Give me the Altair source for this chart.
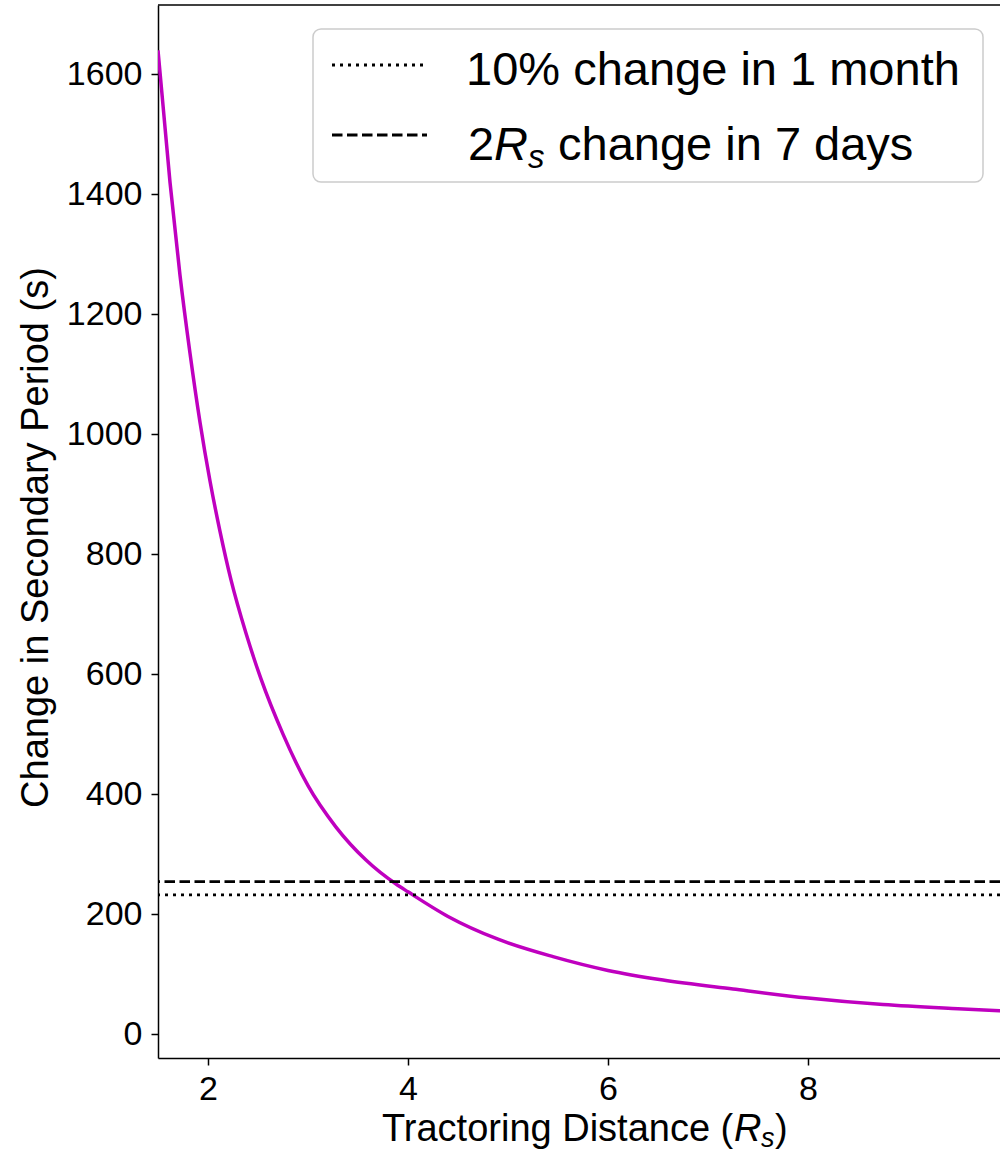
import altair as alt
import pandas as pd

# ---- data ----
distance = [1.5, 1.62, 1.72, 1.82, 1.92, 2.02, 2.12, 2.23, 2.38, 2.53, 2.75, 3.0,
            3.28, 3.58, 3.88, 4.0, 4.4, 4.9, 5.45, 6.0, 6.55, 7.25, 8.0, 8.75, 9.5, 10.0]
period_change = [1640, 1420, 1265, 1135, 1020, 922, 838, 757, 668, 592, 500, 414,
                 345, 290, 250, 237, 196, 158, 129, 106, 90, 75, 60, 49, 42, 38]
threshold_month = [232]   # 10% change in 1 month
threshold_days = [254]    # 2R_s change in 7 days
x_ticks = [2, 4, 6, 8]
y_ticks = [0, 200, 400, 600, 800, 1000, 1200, 1400, 1600]
legend_labels = ["10% change in 1 month", "2", "R", "s", "change in 7 days"]
x_title_parts = ["Tractoring Distance (", "R", "s", ")"]
y_title = "Change in Secondary Period (s)"

# ---- layout ----
W, H = 842, 1053
X0, Y0 = 158, 5
FONT = "Liberation Sans"


def rx(a):
    return a - X0


def ry(a):
    return a - Y0


df = pd.DataFrame({"distance": distance, "change": period_change})
one = pd.DataFrame({"k": [0]})

x_scale = alt.Scale(domain=[1.5, 9.92], nice=False, zero=False)
y_scale = alt.Scale(domain=[-40, 1715.5], nice=False, zero=False)

curve = alt.Chart(df).mark_line(
    color="#bf00bf", strokeWidth=3.5, clip=True, interpolate="monotone"
).encode(
    x=alt.X("distance:Q", scale=x_scale,
            axis=alt.Axis(values=x_ticks, title=None, labelPadding=7,
                          labelFontSize=34, format="d")),
    y=alt.Y("change:Q", scale=y_scale,
            axis=alt.Axis(values=y_ticks, title=y_title, labelPadding=9,
                          labelFontSize=34, format="d",
                          titleFontSize=38, titleFontWeight="normal",
                          titleX=rx(47), titleY=ry(537), titleAngle=270,
                          titleBaseline="alphabetic", titleAlign="center")),
)

rule_month = alt.Chart(pd.DataFrame({"y": threshold_month})).mark_rule(
    color="black", strokeWidth=2.8, strokeDash=[3, 5], strokeCap="butt"
).encode(y=alt.Y("y:Q", scale=y_scale))

rule_days = alt.Chart(pd.DataFrame({"y": threshold_days})).mark_rule(
    color="black", strokeWidth=2.8, strokeDash=[10.5, 4.5], strokeCap="butt"
).encode(y=alt.Y("y:Q", scale=y_scale))

top_spine = alt.Chart(one).mark_rule(color="black", strokeWidth=1.5).encode(
    x=alt.value(0), x2=alt.value(W), y=alt.value(0))

legend_box = alt.Chart(one).mark_rect(
    cornerRadius=8, fill="white", fillOpacity=0.8, stroke="#cccccc", strokeWidth=1.5
).encode(x=alt.value(rx(313)), x2=alt.value(rx(983)),
         y=alt.value(ry(29)), y2=alt.value(ry(182)))

sample_month = alt.Chart(one).mark_rule(
    color="black", strokeWidth=2.8, strokeDash=[3, 5], strokeCap="butt"
).encode(x=alt.value(rx(332)), x2=alt.value(rx(427)), y=alt.value(ry(65)))

sample_days = alt.Chart(one).mark_rule(
    color="black", strokeWidth=2.8, strokeDash=[10.5, 4.5], strokeCap="butt"
).encode(x=alt.value(rx(332)), x2=alt.value(rx(427)), y=alt.value(ry(135)))


def txt(s, xa, ya, size, style="normal"):
    return alt.Chart(one).mark_text(
        text=s, font=FONT, fontSize=size, fontStyle=style, align="left",
        baseline="alphabetic", color="black"
    ).encode(x=alt.value(rx(xa)), y=alt.value(ry(ya)))


legend_texts = [
    txt(legend_labels[0], 466, 85, 47),
    txt(legend_labels[1], 468, 160, 47),
    txt(legend_labels[2], 494, 160, 47, "italic"),
    txt(legend_labels[3], 528, 168, 33, "italic"),
    txt(legend_labels[4], 558, 160, 47),
]

x_title = [
    txt(x_title_parts[0], 382, 1141, 38),
    txt(x_title_parts[1], 734, 1141, 38, "italic"),
    txt(x_title_parts[2], 761, 1147, 27, "italic"),
    txt(x_title_parts[3], 775, 1141, 38),
]

chart = alt.layer(
    curve, rule_month, rule_days, top_spine, legend_box,
    sample_month, sample_days, *legend_texts, *x_title
).properties(
    width=W, height=H,
    padding={"left": X0, "top": Y0, "right": 0, "bottom": 1152 - Y0 - H},
    autosize=alt.AutoSizeParams(type="none"),
    background="white",
).configure_view(stroke=None).configure_axis(
    grid=False, domainColor="black", domainWidth=1.5, tickColor="black",
    tickWidth=1.5, tickSize=7, labelColor="black", titleColor="black",
    labelFont=FONT, titleFont=FONT,
)

chart.save("out.html", embed_options={"renderer": "svg", "actions": False})
